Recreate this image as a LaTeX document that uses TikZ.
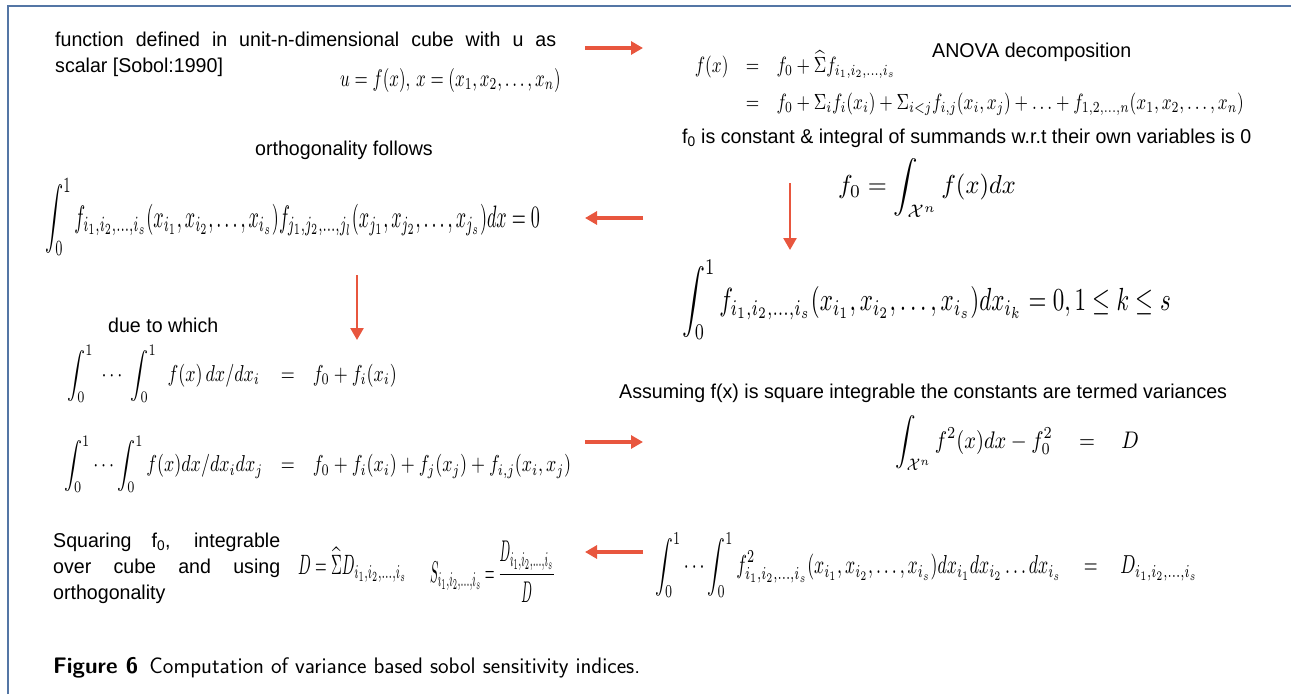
\documentclass[tikz,border=0pt]{standalone}
\usepackage{amsmath,amssymb}
\usepackage{graphicx}
\usepackage{fontspec}
\newfontfamily\diafont{Liberation Sans}[FakeStretch=0.98]
\usepackage{tikz}
\usetikzlibrary{arrows.meta}
\definecolor{arrred}{RGB}{232,86,62}
\definecolor{framebl}{RGB}{84,118,165}
% horizontal scale, vertical scale, formula
\newcommand{\eqbox}[3]{\scalebox{#1}[#2]{$\displaystyle #3$}}

\begin{document}
\begin{tikzpicture}[x=1pt, y=-1pt,
  txt/.style={font=\diafont\fontsize{20}{26}\selectfont, inner sep=0pt},
  eq/.style={inner sep=0pt},
  arr/.style={-{Triangle[length=12pt,width=13pt]}, line width=3.5pt, arrred}]
\useasboundingbox (0,0) rectangle (1291,694);
% --- frame ---
\draw[framebl, line width=2pt] (8,694) -- (8,6) -- (1291,6);
% --- first row ---
\node[txt, anchor=north west, text width=501pt, align=justify] (defn) at (55,32)
  {function defined in unit-n-dimensional cube with u as\linebreak scalar [Sobol:1990]};
\node[eq, anchor=west] (ufx) at (340,80)
  {\eqbox{1.7}{2.4}{u=f(x),\, x=(x_1,x_2,\ldots,x_n)}};
\node[txt, anchor=west] (anovatitle) at (932,52) {ANOVA decomposition};
\node[eq, anchor=west] (anova) at (686,84)
  {\eqbox{1.73}{2.2}{\begin{array}{r@{\quad=\quad}l}
    f(x) & f_0+\widehat{\Sigma} f_{i_1,i_2,\ldots,i_s}\\[5pt]
         & f_0+\Sigma_i f_i(x_i)+\Sigma_{i<j} f_{i,j}(x_i,x_j)+\ldots+f_{1,2,\ldots,n}(x_1,x_2,\ldots,x_n)
  \end{array}}};
\node[txt, anchor=west] (fconst) at (682,138)
  {f\textsubscript{0} is constant \& integral of summands w.r.t their own variables is 0};
\node[eq, anchor=west] (fzero) at (838,188)
  {\eqbox{2.45}{2.6}{f_0=\int_{\mathcal{X}^n} f(x)dx}};
\node[eq, anchor=west] (intk) at (682,300)
  {\eqbox{2.3}{3.2}{\int_0^1 f_{i_1,i_2,\ldots,i_s}(x_{i_1},x_{i_2},\ldots,x_{i_s})dx_{i_k}=0,1\leq k\leq s}};
% --- orthogonality ---
\node[txt, anchor=west] (orthtitle) at (255,150) {orthogonality follows};
\node[eq, anchor=west] (orth) at (45,217)
  {\eqbox{1.81}{3.1}{\int_0^1 f_{i_1,i_2,\ldots,i_s}(x_{i_1},x_{i_2},\ldots,x_{i_s})f_{j_1,j_2,\ldots,j_l}(x_{j_1},x_{j_2},\ldots,x_{j_s})dx=0}};
% --- marginal integrals ---
\node[txt, anchor=west] (duetitle) at (108,325) {due to which};
\node[eq, anchor=west] (marg) at (55,419)
  {\eqbox{1.8}{2.3}{\begin{array}{r@{\quad=\quad}l}
    \displaystyle\int_0^1\;\cdots\;\int_0^1\;\, f(x)\,dx/dx_i\, & f_0+f_i(x_i)\\[20pt]
    \displaystyle\int_0^1\cdots\int_0^1 f(x)dx/dx_idx_j & f_0+f_i(x_i)+f_j(x_j)+f_{i,j}(x_i,x_j)
  \end{array}}};
% --- variances ---
\node[txt, anchor=west] (assume) at (619,393)
  {Assuming f(x) is square integrable the constants are termed variances};
\node[eq, anchor=west] (var) at (895,443)
  {\eqbox{2.05}{2.4}{\int_{\mathcal{X}^n} f^2(x)dx-f_0^2\quad=\quad D}};
\node[eq, anchor=west] (dpart) at (655,565)
  {\eqbox{1.78}{2.6}{\int_0^1\cdots\int_0^1 f^2_{i_1,i_2,\ldots,i_s}(x_{i_1},x_{i_2},\ldots,x_{i_s})dx_{i_1}dx_{i_2}\ldots dx_{i_s}\quad=\quad D_{i_1,i_2,\ldots,i_s}}};
% --- indices ---
\node[txt, anchor=north west, text width=227pt, align=justify] (square) at (53,533)
  {Squaring f\textsubscript{0}, integrable\linebreak over cube and using\linebreak orthogonality};
\node[eq, anchor=west] (dsum) at (298,565)
  {\eqbox{1.5}{2.8}{D=\widehat{\Sigma} D_{i_1,i_2,\ldots,i_s}}};
\node[eq, anchor=west] (sidx) at (430,572)
  {\eqbox{1.25}{3.0}{S_{i_1,i_2,\ldots,i_s}=\frac{D_{i_1,i_2,\ldots,i_s}}{D}}};
% --- caption ---
\node[anchor=west, inner sep=0pt, font=\sffamily\fontsize{22.5}{26}\selectfont] (caption) at (53,668)
  {\textbf{Figure 6}\enspace Computation of variance based sobol sensitivity indices.};
% --- arrows ---
\coordinate (r1a) at (585,48);  \coordinate (r1b) at (643,48);
\coordinate (l1a) at (643,218); \coordinate (l1b) at (585,218);
\coordinate (d1a) at (790,183); \coordinate (d1b) at (790,250);
\coordinate (d2a) at (357,275); \coordinate (d2b) at (357,340);
\coordinate (r2a) at (585,442); \coordinate (r2b) at (643,442);
\coordinate (l2a) at (643,552); \coordinate (l2b) at (585,552);
\draw[arr] (r1a) -- (r1b);
\draw[arr] (l1a) -- (l1b);
\draw[arr, line width=2.5pt] (d1a) -- (d1b);
\draw[arr, line width=2.5pt] (d2a) -- (d2b);
\draw[arr] (r2a) -- (r2b);
\draw[arr] (l2a) -- (l2b);
\end{tikzpicture}
\end{document}
